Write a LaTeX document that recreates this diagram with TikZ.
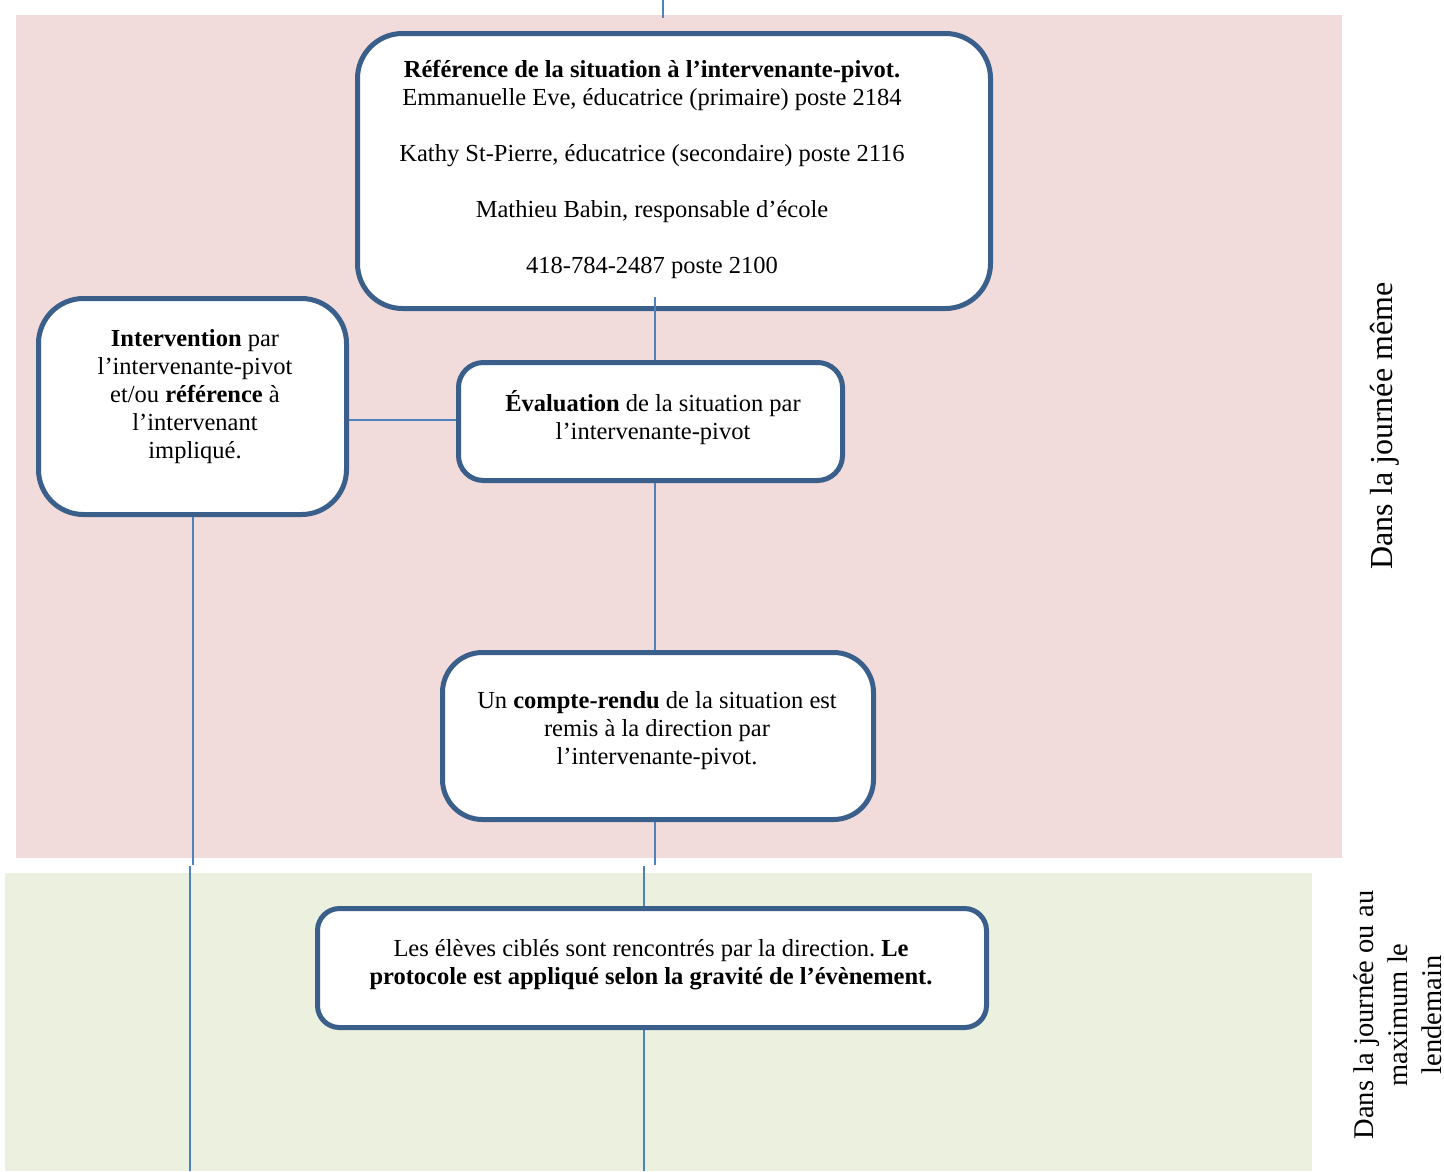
\documentclass[tikz,border=0pt]{standalone}
\usepackage{fontspec}
\setmainfont{Liberation Serif}
\frenchspacing
\definecolor{bandpink}{HTML}{F2DCDB}
\definecolor{bandgreen}{HTML}{EBF1DE}
\definecolor{boxblue}{HTML}{3A5F8B}
\definecolor{linkblue}{HTML}{4F81BD}
\begin{document}
\begin{tikzpicture}[x=1pt,y=-1pt,
  flowbox/.style={draw=boxblue, line width=5pt, fill=white, rounded corners=#1, inner sep=0pt},
  txt/.style={font=\fontsize{24.5}{28}\selectfont\frenchspacing, align=center, inner sep=0pt},
  conn/.style={draw=linkblue, line width=2pt},
  sidelabel/.style={rotate=90, align=center, inner sep=0pt}]
\useasboundingbox (0,0) rectangle (1444,1171);
% bands
\fill[bandpink] (16,15) rectangle (1342,858);
\fill[bandgreen] (5,873) rectangle (1312,1171);
% boxes
\node[flowbox=45pt, minimum width=633pt, minimum height=275pt] (box1) at (674,171) {};
\node[flowbox=25pt, minimum width=384pt, minimum height=118pt] (box2) at (650.5,421.5) {};
\node[flowbox=45pt, minimum width=308pt, minimum height=216pt] (box3) at (192.5,406.5) {};
\node[flowbox=40pt, minimum width=431pt, minimum height=167pt] (box4) at (658,736) {};
\node[flowbox=22pt, minimum width=669pt, minimum height=119pt] (box5) at (652,968) {};
% texts
\node[txt] (t1) at (652,169) {\textbf{Référence de la situation à l’intervenante-pivot.}\\
Emmanuelle Eve, éducatrice (primaire) poste 2184\\[28pt]
Kathy St-Pierre, éducatrice (secondaire) poste 2116\\[28pt]
Mathieu Babin, responsable d’école\\[28pt]
418-784-2487 poste 2100};
\node[txt] (t2) at (653,418) {\textbf{Évaluation} de la situation par\\l’intervenante-pivot};
\node[txt] (t3) at (195,397) {\textbf{Intervention} par\\l’intervenante-pivot\\et/ou \textbf{référence} à\\l’intervenant\\impliqué.};
\node[txt] (t4) at (657,731) {Un \textbf{compte-rendu} de la situation est\\remis à la direction par\\l’intervenante-pivot.};
\node[txt] (t5) at (651,965) {Les élèves ciblés sont rencontrés par la direction. \textbf{Le}\\\textbf{protocole est appliqué selon la gravité de l’évènement.}};
% side labels
\node[sidelabel, font=\fontsize{32}{36}\selectfont] (lab1) at (1385,426) {Dans la journée même};
\node[sidelabel, font=\fontsize{28.5}{34}\selectfont] (lab2) at (1398,1015) {Dans la journée ou au\\maximum le\\lendemain};
% connector coordinates
\coordinate (top0) at (663,0);
\coordinate (top1) at (663,18);
\coordinate (vx) at (655,0);
\coordinate (lx) at (193,0);
\coordinate (gx) at (644,0);
\coordinate (endA) at (655,865);
\coordinate (endB) at (193,865);
\coordinate (startC) at (644,866);
\coordinate (startD) at (190,866);
\coordinate (endC) at (644,1171);
\coordinate (endD) at (190,1171);
% connectors
\draw[conn] (top0) -- (top1);
\draw[conn] ([yshift=14pt]box1.south -| vx) -- (box2.north -| vx);
\draw[conn] (box3.east |- 0,420) -- (box2.west |- 0,420);
\draw[conn] (box2.south -| vx) -- (box4.north -| vx);
\draw[conn] (box4.south -| vx) -- (endA);
\draw[conn] (box3.south -| lx) -- (endB);
\draw[conn] (startD) -- (endD);
\draw[conn] (startC) -- (box5.north -| gx);
\draw[conn] (box5.south -| gx) -- (endC);
\end{tikzpicture}
\end{document}
